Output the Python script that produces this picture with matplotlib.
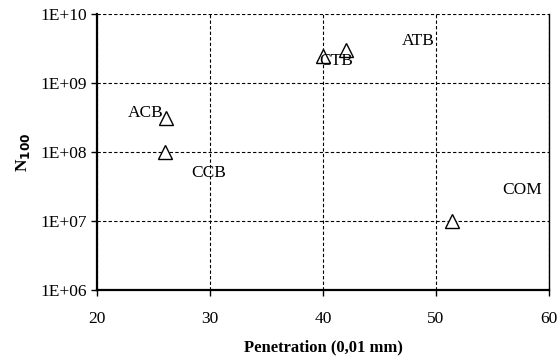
import matplotlib

matplotlib.use('Agg')

import matplotlib.pyplot as plt
import matplotlib.ticker as mticker

# data
penetration = [26.1, 26.0, 40.0, 42.0, 51.4]
n100 = [3.1e8, 1.0e8, 2.5e9, 3.0e9, 1.0e7]

labels = ['ACB', 'CCB', 'CTB', 'ATB', 'COM']
label_x = [24.3, 29.9, 41.2, 48.4, 57.6]
label_y = [3.7e8, 5.0e7, 2.1e9, 4.1e9, 2.8e7]

y_ticks = [1e6, 1e7, 1e8, 1e9, 1e10]
y_tick_labels = ['1E+06', '1E+07', '1E+08', '1E+09', '1E+10']
x_ticks = [20, 30, 40, 50, 60]

plt.rcParams['font.family'] = ['Liberation Serif', 'DejaVu Serif']

fig = plt.figure(figsize=(5.57, 3.61), dpi=100)
ax = fig.add_axes([97 / 557, 1 - 290 / 361, 452 / 557, 276 / 361])

ax.plot(penetration, n100, linestyle='none', marker='^', markersize=10,
        markerfacecolor='white', markeredgecolor='black', markeredgewidth=1.0,
        zorder=3)
for lab, lx, ly in zip(labels, label_x, label_y):
    ax.text(lx, ly, lab, fontsize=12.5, ha='center', va='center', zorder=4)

ax.set_yscale('log')
ax.set_xlim(20, 60)
ax.set_ylim(1e6, 1e10)
ax.set_xticks(x_ticks)
ax.set_yticks(y_ticks)
ax.yaxis.set_major_formatter(mticker.FixedFormatter(y_tick_labels))
ax.yaxis.set_minor_locator(mticker.NullLocator())
ax.tick_params(axis='both', direction='out', length=4, width=1,
               labelsize=12.5, colors='black')
ax.tick_params(axis='x', pad=11)
ax.tick_params(axis='y', pad=3)

ax.grid(True, linestyle=(0, (3, 2)), color='black', linewidth=0.8)
ax.spines['left'].set_linewidth(1.6)
ax.spines['bottom'].set_linewidth(1.6)
ax.spines['top'].set_visible(False)
ax.spines['right'].set_linewidth(1.0)

ax.set_xlabel('Penetration (0,01 mm)', fontsize=12, fontweight='bold', labelpad=9)
ax.set_ylabel('N$_{\\mathbf{100}}$', fontsize=12.5, fontweight='bold', labelpad=6)

fig.savefig('out.png', dpi=100)
plt.close(fig)
